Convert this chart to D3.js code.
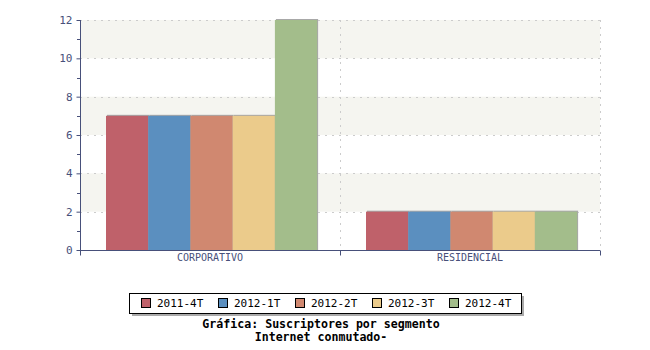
<!DOCTYPE html>
<html>
<head>
<meta charset="utf-8">
<script src="https://cdn.jsdelivr.net/npm/d3@7"></script>
<style>
  html, body { margin: 0; padding: 0; background: #fff; }
  svg { display: block; }
  text { font-family: "DejaVu Sans Mono", "Liberation Mono", monospace; }
</style>
</head>
<body>
<svg id="chart" width="650" height="350"></svg>
<script>
// Subscribers per segment, by quarter
const categories = ["CORPORATIVO", "RESIDENCIAL"];
const seriesNames = ["2011-4T", "2012-1T", "2012-2T", "2012-3T", "2012-4T"];
const seriesColors = ["#bf616a", "#5b8fbf", "#d08870", "#ebcb8b", "#a3bd8b"];
const values = [
  [7, 2],   // 2011-4T
  [7, 2],   // 2012-1T
  [7, 2],   // 2012-2T
  [7, 2],   // 2012-3T
  [12, 2]   // 2012-4T
];
const yTicks = [0, 2, 4, 6, 8, 10, 12];
const titleLines = ["Gráfica: Suscriptores por segmento", "Internet conmutado-"];

const svg = d3.select("#chart");
const margin = { left: 80, right: 50, top: 20, bottom: 100 };
const W = 650, H = 350;
const plotW = W - margin.left - margin.right;
const plotH = H - margin.top - margin.bottom;
const axisColor = "#47507a";

const x0 = d3.scaleBand().domain(categories).range([0, plotW]).padding(0);
// bars fill the middle of each band, leaving about a tenth free on each side
const x1 = d3.scaleBand().domain(seriesNames)
  .range([x0.bandwidth() * 0.1, x0.bandwidth() * 0.912]).padding(0);
const y = d3.scaleLinear().domain([0, 12]).range([plotH, 0]);

const g = svg.append("g").attr("transform", `translate(${margin.left},${margin.top})`);

// alternating background bands
for (let i = 0; i < yTicks.length - 1; i++) {
  const lo = yTicks[i], hi = yTicks[i + 1];
  if (i % 2 === 1) {
    g.append("rect")
      .attr("x", 0).attr("y", y(hi))
      .attr("width", plotW).attr("height", y(lo) - y(hi))
      .attr("fill", "#f5f5f0");
  }
}

// horizontal dashed grid
g.selectAll(".hgrid").data(yTicks.filter(d => d > 0)).enter().append("line")
  .attr("x1", 0).attr("x2", plotW)
  .attr("y1", d => Math.round(y(d)) + 0.5).attr("y2", d => Math.round(y(d)) + 0.5)
  .attr("stroke", "#cccccc").attr("stroke-dasharray", "2,5");

// vertical dashed grid at category boundaries
const vLines = categories.map(c => x0(c) + x0.bandwidth());
g.selectAll(".vgrid").data(vLines).enter().append("line")
  .attr("x1", d => Math.round(d) + 0.5).attr("x2", d => Math.round(d) + 0.5)
  .attr("y1", 0).attr("y2", plotH)
  .attr("stroke", "#cccccc").attr("stroke-dasharray", "2,5");

// bars with a soft shadow
const groups = g.selectAll(".grp").data(categories).enter().append("g")
  .attr("transform", c => `translate(${x0(c)},0)`);

groups.each(function (c, ci) {
  const grp = d3.select(this);
  seriesNames.forEach((s, si) => {
    const v = values[si][ci];
    grp.append("rect")
      .attr("x", x1(s) + 1).attr("y", y(v) - 1)
      .attr("width", x1.bandwidth()).attr("height", plotH - y(v) + 1)
      .attr("fill", "#a8a8a8");
  });
  seriesNames.forEach((s, si) => {
    const v = values[si][ci];
    grp.append("rect")
      .attr("x", x1(s)).attr("y", y(v))
      .attr("width", x1.bandwidth()).attr("height", plotH - y(v))
      .attr("fill", seriesColors[si]);
  });
});

// y axis
const yAxis = d3.axisLeft(y).tickValues(yTicks).tickSize(4).tickPadding(4).tickFormat(d3.format("d"));
const ya = g.append("g").attr("transform", "translate(0.5,0)").call(yAxis);
ya.select(".domain").attr("stroke", axisColor).attr("d", `M0,${plotH}V0`);
ya.selectAll(".tick line").attr("stroke", axisColor);
ya.selectAll(".tick text").attr("fill", axisColor).style("font-size", "11px");
// minor ticks
g.selectAll(".minor").data(d3.range(1, 12, 2)).enter().append("line")
  .attr("x1", -3).attr("x2", 0.5)
  .attr("y1", d => Math.round(y(d)) + 0.5).attr("y2", d => Math.round(y(d)) + 0.5)
  .attr("stroke", axisColor);

// x axis
const xa = g.append("g").attr("transform", `translate(0,${plotH + 0.5})`);
xa.append("line").attr("x1", 0).attr("x2", plotW).attr("stroke", axisColor);
const xTickPos = [0].concat(vLines);
xa.selectAll(".xt").data(xTickPos).enter().append("line")
  .attr("x1", d => Math.round(d) + 0.5).attr("x2", d => Math.round(d) + 0.5)
  .attr("y1", 0).attr("y2", 5).attr("stroke", axisColor);
xa.selectAll(".xl").data(categories).enter().append("text")
  .attr("x", c => x0(c) + x0.bandwidth() / 2).attr("y", 10)
  .attr("text-anchor", "middle").attr("fill", axisColor)
  .style("font-size", "10px").text(c => c);

// legend
const legX = 129, legY = 293, legW = 392, legH = 20;
svg.append("rect").attr("x", legX + 3).attr("y", legY + 3).attr("width", legW).attr("height", legH).attr("fill", "#aaaaaa");
svg.append("rect").attr("x", legX + 0.5).attr("y", legY + 0.5).attr("width", legW).attr("height", legH)
  .attr("fill", "#fff").attr("stroke", "#000");
const itemX = d3.scalePoint().domain(seriesNames).range([legX + 12, legX + 12 + 4 * 77]);
const li = svg.selectAll(".li").data(seriesNames).enter().append("g")
  .attr("transform", s => `translate(${itemX(s)},${legY + 5})`);
li.append("rect").attr("x", 0.5).attr("y", 0.5).attr("width", 9).attr("height", 9)
  .attr("fill", (s, i) => seriesColors[i]).attr("stroke", "#000");
li.append("text").attr("x", 16).attr("y", 9).style("font-size", "11px").attr("fill", "#000").text(s => s);

// title
svg.selectAll(".title").data(titleLines).enter().append("text")
  .attr("x", 321).attr("y", (d, i) => 328 + i * 13)
  .attr("text-anchor", "middle").style("font-size", "11.6px").style("font-weight", "bold")
  .attr("fill", "#000").text(d => d);
</script>
</body>
</html>
